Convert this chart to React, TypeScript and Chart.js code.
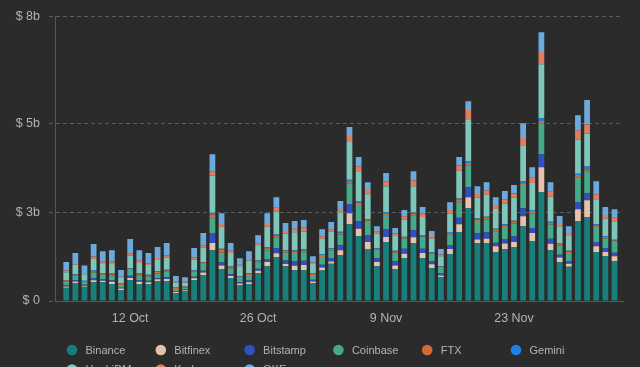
import React, { useEffect, useRef } from "react";
import { Chart, registerables } from "chart.js";

Chart.register(...registerables);

const days = [
  "5 Oct","6 Oct","7 Oct","8 Oct","9 Oct","10 Oct","11 Oct","12 Oct","13 Oct","14 Oct",
  "15 Oct","16 Oct","17 Oct","18 Oct","19 Oct","20 Oct","21 Oct","22 Oct","23 Oct","24 Oct",
  "25 Oct","26 Oct","27 Oct","28 Oct","29 Oct","30 Oct","31 Oct","1 Nov","2 Nov","3 Nov",
  "4 Nov","5 Nov","6 Nov","7 Nov","8 Nov","9 Nov","10 Nov","11 Nov","12 Nov","13 Nov",
  "14 Nov","15 Nov","16 Nov","17 Nov","18 Nov","19 Nov","20 Nov","21 Nov","22 Nov","23 Nov",
  "24 Nov","25 Nov","26 Nov","27 Nov","28 Nov","29 Nov","30 Nov","1 Dec","2 Dec","3 Dec","4 Dec",
];

const xTickIndex = [7, 21, 35, 49];
const yTickValues = [0, 2.5, 5, 8];
const yTickLabels = ["$ 0", "$ 3b", "$ 5b", "$ 8b"];

const seriesNames = ["Binance","Bitfinex","Bitstamp","Coinbase","FTX","Gemini","HuobiDM","Kraken","OKEx"];
const seriesColors = ["#17807c","#e6c2ac","#2f4fc2","#45aa8a","#d46a37","#1f80e6","#7dc6b9","#e07d60","#6caade"];

// values in billions USD
const binance = [0.37,0.50,0.40,0.53,0.53,0.48,0.31,0.59,0.48,0.48,0.56,0.56,0.22,0.28,0.59,0.73,1.43,0.90,0.65,0.45,0.48,0.79,0.98,1.24,0.98,0.87,0.87,0.50,0.86,1.05,1.29,2.16,1.83,1.46,0.98,1.66,0.90,1.21,1.63,1.21,0.93,0.67,1.32,1.94,2.61,1.63,1.63,1.38,1.46,1.52,2.10,1.69,3.06,1.43,1.10,0.96,2.25,2.36,1.38,1.26,1.12];
const bitfinex = [0.04,0.05,0.03,0.05,0.04,0.06,0.04,0.06,0.06,0.05,0.05,0.06,0.03,0.02,0.05,0.07,0.20,0.10,0.05,0.04,0.05,0.06,0.12,0.10,0.06,0.12,0.14,0.05,0.08,0.06,0.14,0.31,0.20,0.20,0.12,0.14,0.10,0.12,0.16,0.14,0.10,0.05,0.14,0.22,0.31,0.10,0.12,0.16,0.16,0.14,0.28,0.22,0.70,0.18,0.12,0.09,0.33,0.47,0.16,0.12,0.14];
const bitstamp = [0.04,0.04,0.03,0.07,0.05,0.04,0.02,0.06,0.04,0.04,0.03,0.05,0.02,0.02,0.04,0.05,0.28,0.08,0.05,0.04,0.05,0.06,0.08,0.14,0.10,0.12,0.12,0.05,0.08,0.10,0.14,0.25,0.22,0.18,0.10,0.22,0.12,0.14,0.20,0.12,0.08,0.05,0.10,0.18,0.28,0.18,0.18,0.10,0.12,0.16,0.23,0.14,0.37,0.14,0.08,0.06,0.20,0.20,0.12,0.10,0.10];
const coinbase = [0.10,0.12,0.08,0.15,0.12,0.13,0.08,0.16,0.13,0.12,0.14,0.15,0.07,0.06,0.14,0.19,0.42,0.28,0.16,0.12,0.15,0.18,0.25,0.30,0.22,0.24,0.24,0.13,0.22,0.22,0.30,0.59,0.45,0.38,0.24,0.40,0.24,0.28,0.42,0.30,0.22,0.16,0.30,0.44,0.62,0.34,0.36,0.32,0.34,0.36,0.65,0.42,0.87,0.40,0.26,0.24,0.70,0.62,0.42,0.28,0.30];
const ftx = [0.03,0.03,0.02,0.04,0.03,0.04,0.03,0.04,0.04,0.03,0.04,0.04,0.03,0.02,0.03,0.04,0.10,0.08,0.04,0.03,0.04,0.04,0.05,0.06,0.05,0.05,0.05,0.03,0.05,0.04,0.05,0.06,0.06,0.05,0.03,0.05,0.03,0.04,0.05,0.04,0.03,0.03,0.05,0.06,0.06,0.04,0.05,0.04,0.05,0.05,0.05,0.06,0.06,0.05,0.04,0.04,0.06,0.05,0.05,0.04,0.04];
const gemini = [0.01,0.02,0.01,0.02,0.02,0.02,0.01,0.02,0.02,0.02,0.02,0.02,0.01,0.01,0.02,0.02,0.05,0.03,0.02,0.02,0.02,0.02,0.03,0.03,0.02,0.03,0.03,0.02,0.02,0.02,0.03,0.04,0.04,0.03,0.02,0.03,0.02,0.02,0.03,0.03,0.02,0.02,0.03,0.04,0.04,0.03,0.03,0.03,0.03,0.03,0.05,0.03,0.08,0.03,0.02,0.02,0.04,0.08,0.03,0.02,0.02];
const huobiDM = [0.22,0.26,0.18,0.33,0.27,0.29,0.16,0.34,0.30,0.27,0.31,0.34,0.13,0.11,0.30,0.40,1.05,0.62,0.38,0.28,0.34,0.40,0.58,0.64,0.46,0.50,0.50,0.26,0.44,0.46,0.54,1.06,0.85,0.70,0.40,0.72,0.42,0.48,0.74,0.52,0.38,0.28,0.52,0.78,1.17,0.58,0.62,0.56,0.58,0.64,1.02,0.76,1.52,0.70,0.48,0.42,0.96,0.93,0.70,0.50,0.52];
const kraken = [0.05,0.05,0.04,0.06,0.05,0.05,0.03,0.07,0.06,0.05,0.06,0.06,0.03,0.02,0.05,0.07,0.12,0.10,0.06,0.04,0.05,0.06,0.10,0.11,0.08,0.10,0.11,0.04,0.07,0.07,0.10,0.20,0.14,0.12,0.07,0.14,0.07,0.09,0.16,0.10,0.07,0.05,0.10,0.15,0.28,0.11,0.12,0.11,0.12,0.12,0.20,0.16,0.34,0.14,0.09,0.08,0.26,0.26,0.14,0.10,0.10];
const okex = [0.24,0.28,0.21,0.35,0.29,0.32,0.19,0.40,0.30,0.29,0.31,0.35,0.16,0.13,0.27,0.34,0.48,0.28,0.22,0.18,0.22,0.24,0.28,0.30,0.22,0.22,0.22,0.18,0.20,0.20,0.22,0.22,0.26,0.22,0.14,0.24,0.15,0.18,0.26,0.18,0.14,0.15,0.22,0.24,0.25,0.22,0.23,0.22,0.23,0.24,0.42,0.28,0.56,0.27,0.20,0.19,0.42,0.68,0.37,0.22,0.24];

const seriesValues = [binance, bitfinex, bitstamp, coinbase, ftx, gemini, huobiDM, kraken, okex];

const BG = "#2b2b2b";
const TEXT = "#b3b3b3";
const FONT = "'Liberation Sans', Arial, sans-serif";

const legendPlugin = {
  id: "gridLegend",
  afterDraw(chart: any) {
    const ctx = chart.ctx;
    const cols = 6;
    const colStart = 72;
    const colStep = 88.8;
    const rowStart = 350;
    const rowStep = 19.5;
    ctx.save();
    ctx.font = `11px ${FONT}`;
    ctx.textBaseline = "middle";
    ctx.textAlign = "left";
    chart.data.datasets.forEach((ds: any, i: number) => {
      const col = i % cols;
      const row = Math.floor(i / cols);
      const cx = colStart + col * colStep;
      const cy = rowStart + row * rowStep;
      ctx.beginPath();
      ctx.arc(cx, cy, 5.3, 0, Math.PI * 2);
      ctx.fillStyle = ds.backgroundColor;
      ctx.fill();
      ctx.fillStyle = TEXT;
      ctx.fillText(ds.label, cx + 13.5, cy + 0.5);
    });
    ctx.restore();
  },
};

export default function App() {
  const ref = useRef<HTMLCanvasElement | null>(null);

  useEffect(() => {
    document.body.style.margin = "0";
    document.body.style.background = BG;
    if (!ref.current) return;
    const chart = new Chart(ref.current, {
      type: "bar",
      data: {
        datasets: seriesNames.map((name, k) => ({
          label: name,
          backgroundColor: seriesColors[k],
          borderWidth: 0,
          data: seriesValues[k].map((v, i) => ({ x: i, y: v })),
          barPercentage: 0.63,
          categoryPercentage: 1,
        })),
      },
      options: {
        animation: false,
        responsive: true,
        maintainAspectRatio: false,
        layout: { padding: { top: 16, right: 17, bottom: 36, left: 0 } },
        plugins: {
          legend: { display: false },
          tooltip: { enabled: false },
        },
        scales: {
          x: {
            type: "linear",
            stacked: true,
            offset: false,
            min: -1.226,
            max: 60.93,
            grid: { display: false, drawTicks: false },
            border: { display: true, color: "#575757", width: 1 },
            afterBuildTicks: (scale: any) => {
              scale.ticks = xTickIndex.map((v) => ({ value: v }));
            },
            afterFit: (scale: any) => {
              scale.height = 30;
            },
            ticks: {
              autoSkip: false,
              maxRotation: 0,
              padding: 10,
              color: TEXT,
              font: { family: FONT, size: 12.5 },
              callback: (v: any) => days[v as number] ?? "",
            },
          },
          y: {
            stacked: true,
            min: 0,
            max: 8,
            afterBuildTicks: (scale: any) => {
              scale.ticks = yTickValues.map((v) => ({ value: v }));
            },
            afterFit: (scale: any) => {
              scale.width = 55;
            },
            grid: {
              color: "#5c5c5c",
              tickBorderDash: [4, 3],
              tickLength: 6,
              drawTicks: true,
            } as any,
            border: { display: true, color: "#575757", width: 1, dash: [4, 3] } as any,
            ticks: {
              padding: 9,
              color: TEXT,
              font: { family: FONT, size: 12.5 },
              callback: (v: any) => {
                const idx = yTickValues.indexOf(v as number);
                return idx >= 0 ? yTickLabels[idx] : "";
              },
            },
          },
        },
      },
      plugins: [legendPlugin],
    } as any);
    return () => chart.destroy();
  }, []);

  return (
    <div style={{ position: "fixed", left: 0, top: 0, width: 640, height: 367, background: BG }}>
      <canvas ref={ref} />
    </div>
  );
}
